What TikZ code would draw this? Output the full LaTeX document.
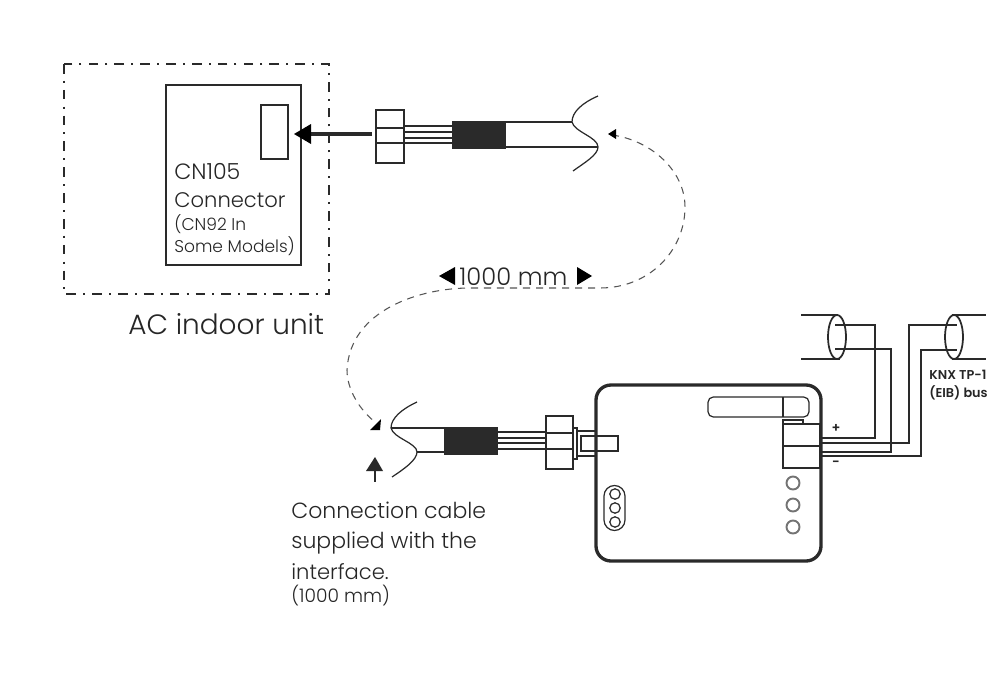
\documentclass[tikz,border=0pt]{standalone}
\usepackage{fontspec}
\setmainfont{Poppins}[UprightFont=* Light,BoldFont=* SemiBold]
\definecolor{inktext}{HTML}{262626}
\definecolor{inkline}{HTML}{2A2A2A}
\tikzset{
  wire/.style={draw=inkline,line width=1pt},
  thinwire/.style={draw=inkline,line width=0.7pt},
  casing/.style={draw=inkline,line width=1.9pt},
  dashdotbox/.style={draw=inkline,line width=0.85pt,dash pattern=on 5.5pt off 4pt on 1.2pt off 4pt},
  route/.style={draw=inkline!80,line width=0.6pt,dash pattern=on 4pt off 3.4pt},
  ring/.style={draw=black!55,line width=1.1pt},
  label/.style={inner sep=0pt,text=inktext,anchor=base west}
}
\begin{document}
\begin{tikzpicture}[x=0.2mm,y=0.2mm]
\useasboundingbox (0,0) rectangle (1000,-685);
\draw [dashdotbox] (64,-64) rectangle (329,-294);
\draw [wire] (166,-85) rectangle (301,-265);
\draw [wire] (261,-105) rectangle (288,-159);
\node [label,font=\fontsize{12.6pt}{14pt}\selectfont] (cnname) at (174,-179) {CN105};
\node [label,font=\fontsize{12pt}{14pt}\selectfont] (cntype) at (174,-207) {Connector};
\node [label,font=\fontsize{9.7pt}{11pt}\selectfont] (cnalta) at (174,-230) {(CN92 In};
\node [label,font=\fontsize{9.7pt}{11pt}\selectfont] (cnaltb) at (174,-252) {Some Models)};
\node [label,font=\fontsize{15.9pt}{18pt}\selectfont] (unit) at (128,-334) {AC indoor unit};
\draw [inkline,line width=2.2pt] (372,-134) -- (308,-134);
\fill [black] (294,-134) -- (311,-124) -- (311,-144);
\draw [wire] (376,-110) rectangle (404,-163);
\draw [wire] (376,-128) -- (404,-128);
\draw [wire] (376,-143) -- (404,-143);
\draw [thinwire] (404,-126) -- (452,-126);
\draw [thinwire] (404,-132) -- (452,-132);
\draw [thinwire] (404,-138) -- (452,-138);
\draw [thinwire] (404,-143) -- (452,-143);
\fill [inkline] (452,-121) rectangle (506,-149);
\draw [thinwire] (506,-122) -- (572,-122);
\draw [thinwire] (506,-147) -- (598,-147);
\draw [thinwire] (598,-96) .. controls (582,-103) and (572,-112) .. (572,-122) .. controls (574,-132) and (598,-137) .. (598,-147) .. controls (598,-155) and (584,-163) .. (573,-171);
\draw [route] (612,-135) .. controls (650,-140) and (685,-170) .. (685,-207) .. controls (685,-250) and (650,-288) .. (600,-288) -- (470,-288) .. controls (420,-288) and (350,-310) .. (347,-370) .. controls (347,-390) and (360,-410) .. (375,-422);
\fill [black] (608,-134) -- (616,-129) -- (616,-139);
\fill [black] (381,-419) -- (370,-430) -- (380,-430);
\fill [black] (439,-276) -- (455,-267) -- (455,-285);
\fill [black] (592,-276) -- (577,-267) -- (577,-285);
\node [label,font=\fontsize{13.8pt}{18pt}\selectfont] (length) at (459,-285) {1000 mm};
\draw [thinwire] (391,-428) -- (444,-428);
\draw [thinwire] (417,-452) -- (444,-452);
\draw [thinwire] (417,-402) .. controls (402,-409) and (391,-418) .. (391,-428) .. controls (393,-438) and (417,-443) .. (417,-452) .. controls (417,-460) and (404,-469) .. (392,-477);
\fill [inkline] (444,-427) rectangle (498,-455);
\draw [thinwire] (498,-432) -- (546,-432);
\draw [thinwire] (498,-438) -- (546,-438);
\draw [thinwire] (498,-443) -- (546,-443);
\draw [thinwire] (498,-449) -- (546,-449);
\draw [wire] (546,-416) rectangle (573,-469);
\draw [wire] (546,-433) -- (573,-433);
\draw [wire] (546,-449) -- (573,-449);
\draw [thinwire] (573,-428) -- (577,-428) -- (577,-431) -- (596,-431);
\draw [thinwire] (573,-459) -- (577,-459) -- (577,-456) -- (596,-456);
\draw [thinwire] (577,-431) -- (577,-456);
\draw [thinwire] (581,-436) rectangle (618,-451);
\fill [inkline] (366,-471) -- (383,-471) -- (375,-457);
\draw [wire] (375,-471) -- (375,-482);
\node [label,font=\fontsize{12.5pt}{14pt}\selectfont] (cablea) at (291,-518) {Connection cable};
\node [label,font=\fontsize{12.5pt}{14pt}\selectfont] (cableb) at (291,-548) {supplied with the};
\node [label,font=\fontsize{12pt}{14pt}\selectfont] (cablec) at (291,-579) {interface.};
\node [label,font=\fontsize{10.6pt}{11pt}\selectfont] (cabled) at (291,-602) {(1000 mm)};
\draw [casing] (596,-400) arc (180:90:15) -- (806,-385) arc (90:0:15) -- (821,-546) arc (0:-90:15) -- (611,-561) arc (-90:-180:15) -- cycle;
\draw [thinwire,rounded corners=3pt] (708,-397) rectangle (809,-417);
\draw [thinwire] (783,-397) -- (783,-417);
\draw [thinwire] (783,-424) rectangle (820,-468);
\draw [thinwire] (783,-446) -- (820,-446);
\draw [thinwire] (783,-424) -- (783,-420) -- (803,-420) -- (803,-424);
\foreach \y in {483,505,527} {
  \draw [ring,fill=white] (793,-\y) circle (6.5);
}
\draw [thinwire] (604,-496) arc (180:0:10.5) -- (625,-520) arc (0:-180:10.5) -- cycle;
\foreach \y in {494,508,522} {
  \draw [thinwire] (615,-\y) circle (5.2);
}
\node [font=\bfseries\fontsize{7.5pt}{8pt}\selectfont,inner sep=0pt,text=inktext] (plus) at (836,-428) {+};
\node [font=\bfseries\fontsize{7.5pt}{8pt}\selectfont,inner sep=0pt,text=inktext] (minus) at (836,-464) {-};
\draw [wire] (801,-315) -- (838,-315);
\draw [wire] (801,-359) -- (840,-359);
\draw [wire] (837,-337) ellipse (9 and 22);
\draw [wire] (835,-325) -- (875,-325) -- (875,-438) -- (821,-438);
\draw [wire] (835,-349) -- (891,-349) -- (891,-452) -- (821,-452);
\draw [wire] (821,-443) -- (909,-443) -- (909,-325) -- (957,-325);
\draw [wire] (821,-456) -- (921,-456) -- (921,-350) -- (957,-350);
\draw [wire] (952,-315) -- (986,-315);
\draw [wire] (952,-359) -- (986,-359);
\draw [wire] (954,-337) ellipse (9 and 22);
\node [label,font=\bfseries\fontsize{7.3pt}{8pt}\selectfont] (busa) at (929,-379) {KNX TP-1};
\node [label,font=\bfseries\fontsize{7.3pt}{8pt}\selectfont] (busb) at (929,-397) {(EIB) bus};
\end{tikzpicture}
\end{document}
